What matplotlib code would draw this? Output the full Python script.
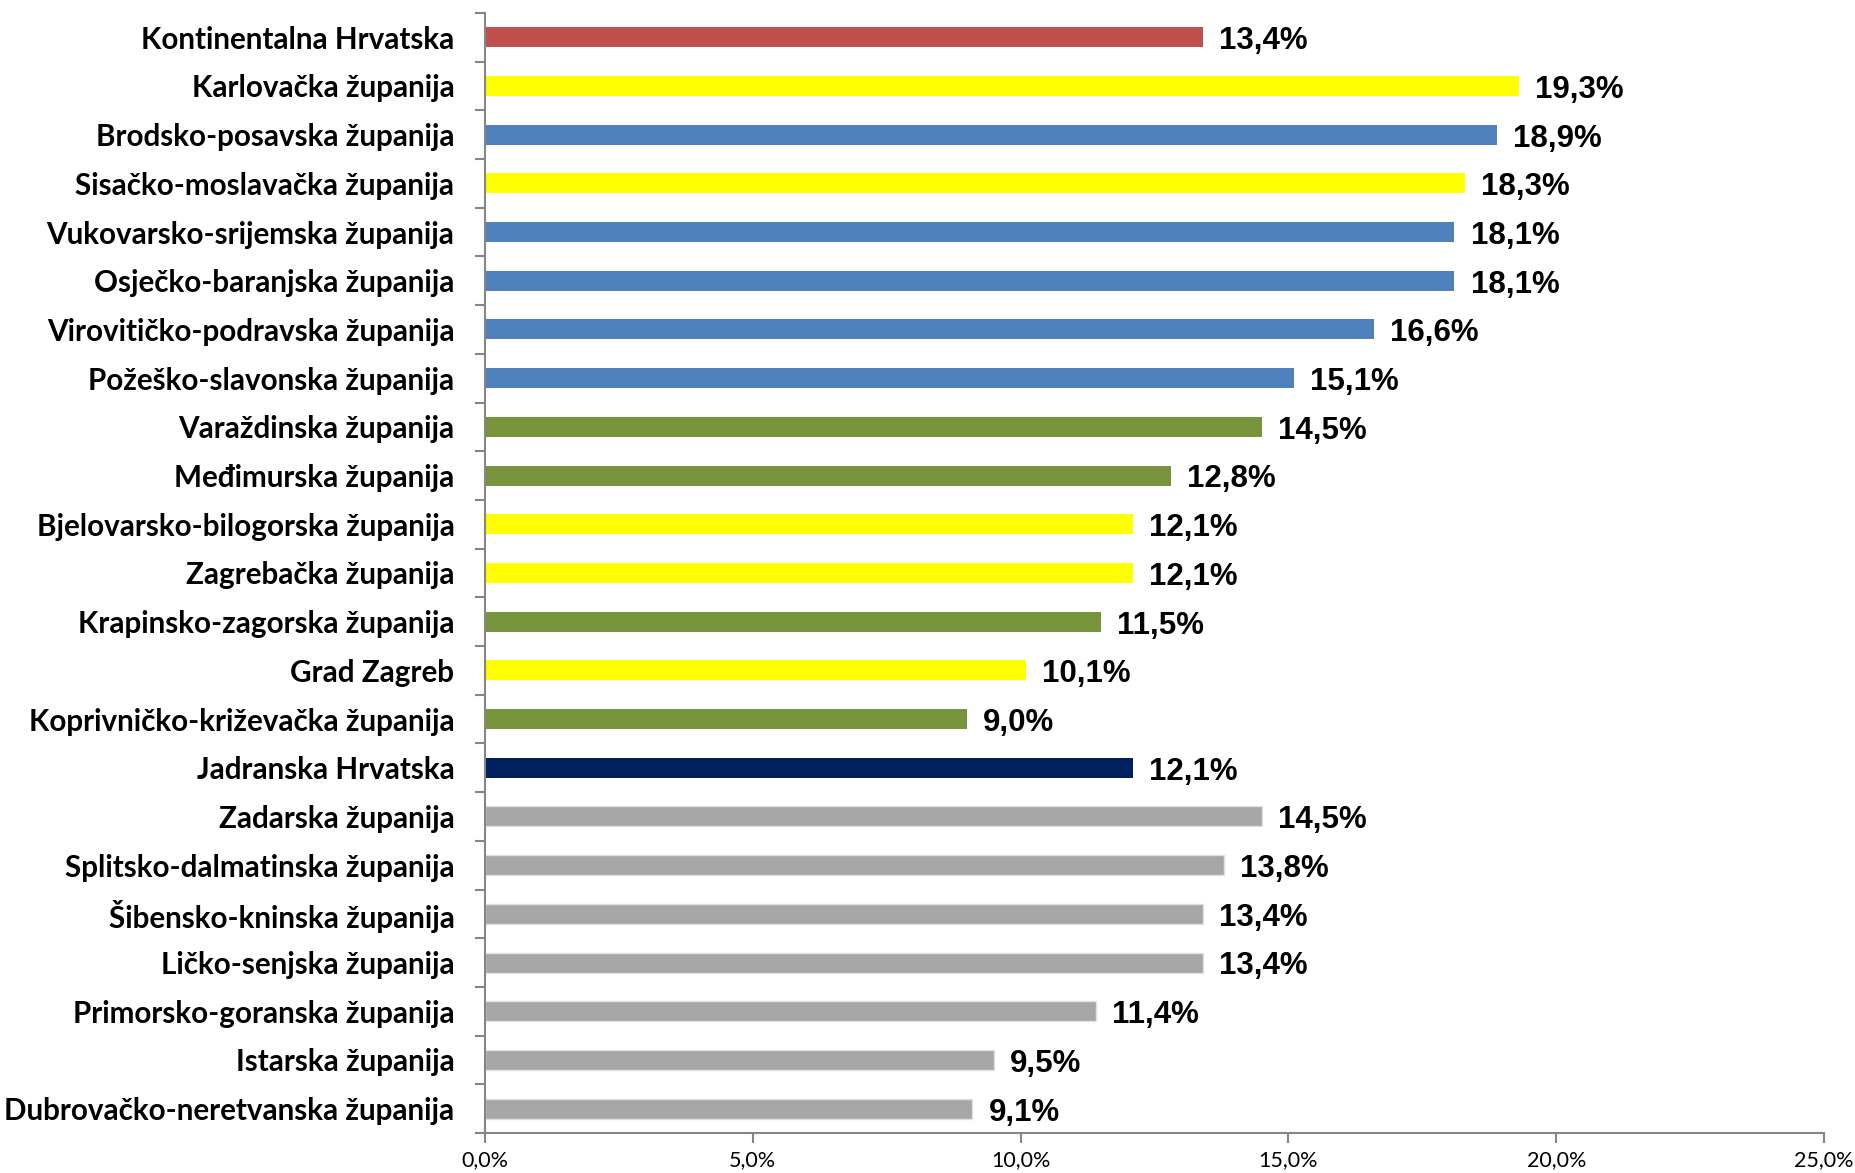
import matplotlib.pyplot as plt
from matplotlib.ticker import FixedLocator, FuncFormatter

# data
regions = ["Kontinentalna Hrvatska", "Karlovačka županija", "Brodsko-posavska županija",
           "Sisačko-moslavačka županija", "Vukovarsko-srijemska županija", "Osječko-baranjska županija",
           "Virovitičko-podravska županija", "Požeško-slavonska županija", "Varaždinska županija",
           "Međimurska županija", "Bjelovarsko-bilogorska županija", "Zagrebačka županija",
           "Krapinsko-zagorska županija", "Grad Zagreb", "Koprivničko-križevačka županija",
           "Jadranska Hrvatska", "Zadarska županija", "Splitsko-dalmatinska županija",
           "Šibensko-kninska županija", "Ličko-senjska županija", "Primorsko-goranska županija",
           "Istarska županija", "Dubrovačko-neretvanska županija"]
values = [13.4, 19.3, 18.9, 18.3, 18.1, 18.1, 16.6, 15.1, 14.5, 12.8, 12.1, 12.1,
          11.5, 10.1, 9.0, 12.1, 14.5, 13.8, 13.4, 13.4, 11.4, 9.5, 9.1]
groups = ["kont", "y", "b", "y", "b", "b", "b", "b", "g", "g", "y", "y",
          "g", "y", "g", "jad", "s", "s", "s", "s", "s", "s", "s"]
xticks = [0, 5, 10, 15, 20, 25]

colors = {"kont": "#C0504D", "y": "#FFFF00", "b": "#4F81BD", "g": "#77933C",
          "jad": "#002060", "s": "#A6A6A6"}

fig = plt.figure(figsize=(18.56, 11.73), dpi=100)
ax = fig.add_axes([0.2613, 0.0341, 0.9828 - 0.2613, 0.989 - 0.0341])

pos = list(range(len(regions)))
for i in pos:
    g = groups[i]
    ec = "#E0E0E0" if g == "s" else "none"
    ax.barh(i, values[i], height=0.41, color=colors[g], edgecolor=ec, linewidth=1.0)
    ax.text(values[i] + 0.3, i + 0.08, f"{values[i]:.1f}%".replace(".", ","),
            va="center", ha="left", fontsize=22.5, fontweight="bold",
            family="Liberation Sans", color="black")

ax.set_xlim(0, 25)
ax.set_ylim(len(regions) - 0.5, -0.5)
ax.xaxis.set_major_locator(FixedLocator(xticks))
ax.xaxis.set_major_formatter(FuncFormatter(lambda v, p: f"{v:.1f}%".replace(".", ",")))

ax.set_yticks(pos)
ax.set_yticklabels(regions, fontsize=21.3, fontweight="bold", family="Lato")
ax.set_yticks([p - 0.5 for p in range(len(regions) + 1)], minor=True)
ax.tick_params(axis="y", which="major", length=0, pad=22)
ax.tick_params(axis="y", which="minor", length=7, width=1.5, color="#868686", direction="out")
ax.tick_params(axis="x", length=7, width=1.5, color="#868686", pad=5, labelsize=15.5)
for lab in ax.get_xticklabels():
    lab.set_family("Lato")

for s in ["top", "right"]:
    ax.spines[s].set_visible(False)
for s in ["left", "bottom"]:
    ax.spines[s].set_color("#868686")
    ax.spines[s].set_linewidth(1.5)

fig.savefig("out.png", dpi=100)
